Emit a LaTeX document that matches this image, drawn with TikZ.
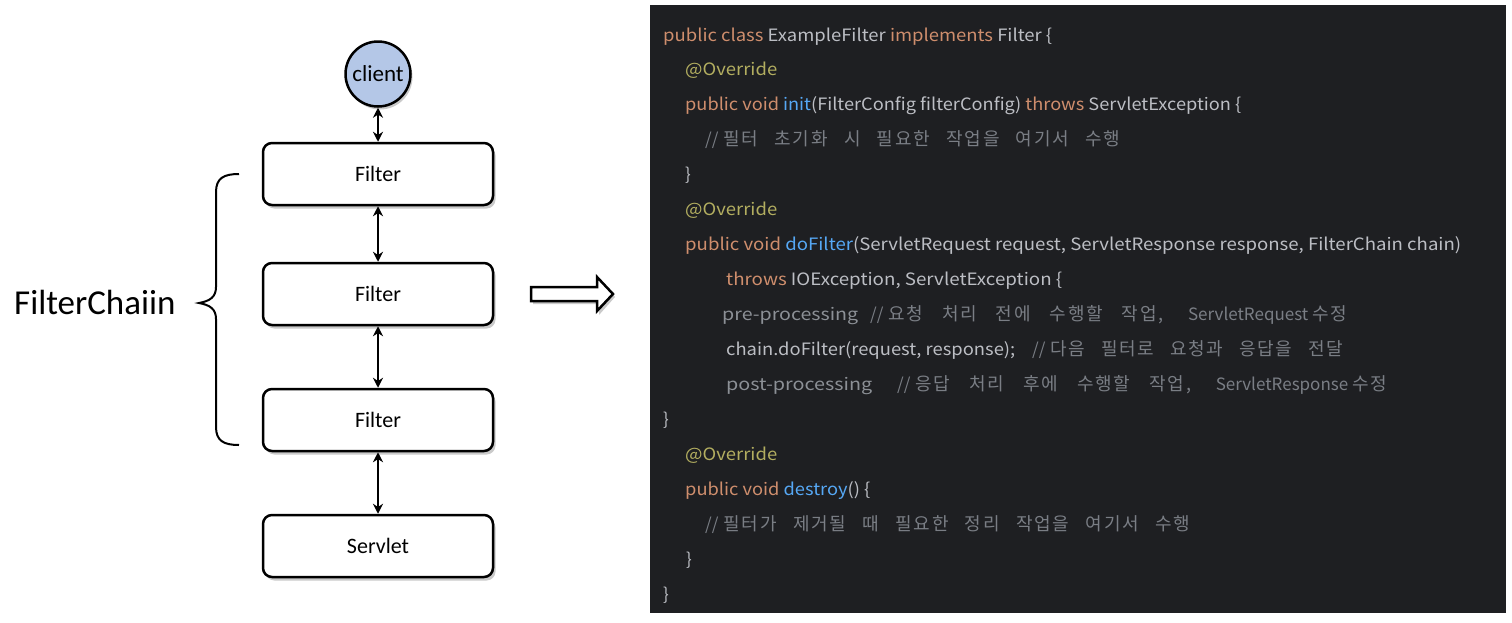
\documentclass[tikz,border=0pt]{standalone}
\usepackage{fontspec}
\usepackage{graphicx}
\setmainfont{Carlito}
\newfontfamily\codefont{Noto Sans CJK KR}
\newfontfamily\krfamily[LetterSpace=10]{Noto Sans CJK KR}
\usetikzlibrary{arrows.meta,shadows}
\definecolor{panelbg}{HTML}{1E1F22}
\definecolor{ckw}{HTML}{CF8E6D}
\definecolor{can}{HTML}{B3AE60}
\definecolor{cfn}{HTML}{56A8F5}
\definecolor{ctx}{HTML}{BCBEC4}
\definecolor{ccm}{HTML}{7A7E85}
\definecolor{cpp}{HTML}{8C9096}
\definecolor{clientfill}{HTML}{B4C7E7}
\newcommand\Kw[1]{\textcolor{ckw}{#1}}
\newcommand\An[1]{\textcolor{can}{#1}}
\newcommand\Fn[1]{\textcolor{cfn}{#1}}
\newcommand\Tx[1]{\textcolor{ctx}{#1}}
\newcommand\Cm[1]{\textcolor{ccm}{#1}}
\newcommand\Pp[1]{\textcolor{cpp}{#1}}
\newcommand\Kr[1]{{\krfamily\fontsize{18}{20}\selectfont #1}}
\newcommand\Hfit[2]{\resizebox{#1pt}{\height}{#2}}
\newcommand\Sfit[2]{\makebox[#1pt][s]{#2}}
\tikzset{
  stagebox/.style={draw, line width=2.5pt, rounded corners=9pt, fill=white,
    minimum width=230pt, minimum height=62pt, inner sep=0pt,
    font=\fontsize{22}{26}\selectfont,
    drop shadow={shadow xshift=2.5pt, shadow yshift=-3.5pt, opacity=0.35, fill=black!60}},
  clientnode/.style={circle, draw, line width=2.5pt, fill=clientfill, minimum size=65pt, inner sep=0pt,
    font=\fontsize{23}{27}\selectfont,
    drop shadow={shadow xshift=2pt, shadow yshift=-3pt, opacity=0.35, fill=black!60}},
  link/.style={line width=2.4pt, {Stealth[length=10pt,width=10pt]}-{Stealth[length=10pt,width=10pt]}},
  code/.style={anchor=base west, inner sep=0pt, font=\codefont\fontsize{17}{20}\selectfont, text=ctx},
}
\begin{document}
\begin{tikzpicture}[x=1pt,y=-1pt]
\useasboundingbox (0,0) rectangle (1512,622);
% left diagram
\node[clientnode] (client) at (378,74) {client};
\node[stagebox] (f1) at (378,174) {\raisebox{-2pt}{Filter}};
\node[stagebox] (f2) at (378,294) {\raisebox{-2pt}{Filter}};
\node[stagebox] (f3) at (378,420) {\raisebox{-2pt}{Filter}};
\node[stagebox] (sv) at (378,546) {\raisebox{-2pt}{Servlet}};
\draw[link] (client.south) -- (f1.north);
\draw[link] (f1.south) -- (f2.north);
\draw[link] (f2.south) -- (f3.north);
\draw[link] (f3.south) -- (sv.north);
% brace
\draw[line width=2pt] (239,174) .. controls (224,174) and (216,178) .. (216,192) -- (216,287)
  .. controls (216,297) and (210,301) .. (199,303)
  .. controls (210,305) and (216,309) .. (216,319) -- (216,427)
  .. controls (216,441) and (224,445) .. (239,445);
\node[anchor=base west, inner sep=0pt, font=\fontsize{35}{40}\selectfont] (fc) at (14,314) {FilterChaiin};
% hollow arrow
\fill[black!60, opacity=0.35] (533,290) -- (599,290) -- (599,280) -- (615,297) -- (599,315) -- (599,304) -- (533,304) -- cycle;
\draw[line width=2.5pt, fill=white, line join=miter] (531,287) -- (597,287) -- (597,277) -- (613,294) -- (597,311) -- (597,301) -- (531,301) -- cycle;
% code panel
\fill[panelbg] (650,5) rectangle (1506,613);
\node[code] (l1) at (663,41) {\Hfit{389}{\Kw{public class }\Tx{ExampleFilter }\Kw{implements }\Tx{Filter \{}}};
\node[code] (l2) at (685,75.9) {\Hfit{92}{\An{@Override}}};
\node[code] (l3) at (685,110.9) {\Hfit{556}{\Kw{public void }\Fn{init}\Tx{(FilterConfig filterConfig) }\Kw{throws }\Tx{ServletException \{}}};
\node[code] (l4) at (705,145.8) {\Sfit{415}{\Cm{//\kern5pt\Kr{필터 초기화 시 필요한 작업을 여기서 수행}}}};
\node[code] (l5) at (685,180.8) {\Tx{\}}};
\node[code] (l6) at (685,215.7) {\Hfit{92}{\An{@Override}}};
\node[code] (l7) at (685,250.6) {\Hfit{776}{\Kw{public void }\Fn{doFilter}\Tx{(ServletRequest request, ServletResponse response, FilterChain chain)}}};
\node[code] (l8) at (726,285.6) {\Hfit{336}{\Kw{throws }\Tx{IOException, ServletException \{}}};
\node[code] (l9a) at (722,320.5) {\Hfit{136}{\Pp{pre-processing}}};
\node[code] (l9b) at (870,320.5) {\Sfit{477}{\Cm{//\kern5pt\Kr{요청 처리 전에 수행할 작업,}\ \ ServletRequest\kern4pt\Kr{수정}}}};
\node[code] (l10a) at (726,355.5) {\Hfit{289}{\Tx{chain.doFilter(request, response);}}};
\node[code] (l10b) at (1032,355.5) {\Sfit{311}{\Cm{//\kern5pt\Kr{다음 필터로 요청과 응답을 전달}}}};
\node[code] (l11a) at (726,390.4) {\Hfit{146}{\Pp{post-processing}}};
\node[code] (l11b) at (897,390.4) {\Sfit{490}{\Cm{//\kern5pt\Kr{응답 처리 후에 수행할 작업,}\ \ ServletResponse\kern4pt\Kr{수정}}}};
\node[code] (l12) at (663,425.3) {\Tx{\}}};
\node[code] (l13) at (685,460.3) {\Hfit{92}{\An{@Override}}};
\node[code] (l14) at (685,495.2) {\Hfit{185}{\Kw{public void }\Fn{destroy}\Tx{() \{}}};
\node[code] (l15) at (705,530.2) {\Sfit{485}{\Cm{//\kern5pt\Kr{필터가 제거될 때 필요한 정리 작업을 여기서 수행}}}};
\node[code] (l16) at (686,565.1) {\Tx{\}}};
\node[code] (l17) at (663,600) {\Tx{\}}};
\end{tikzpicture}
\end{document}
